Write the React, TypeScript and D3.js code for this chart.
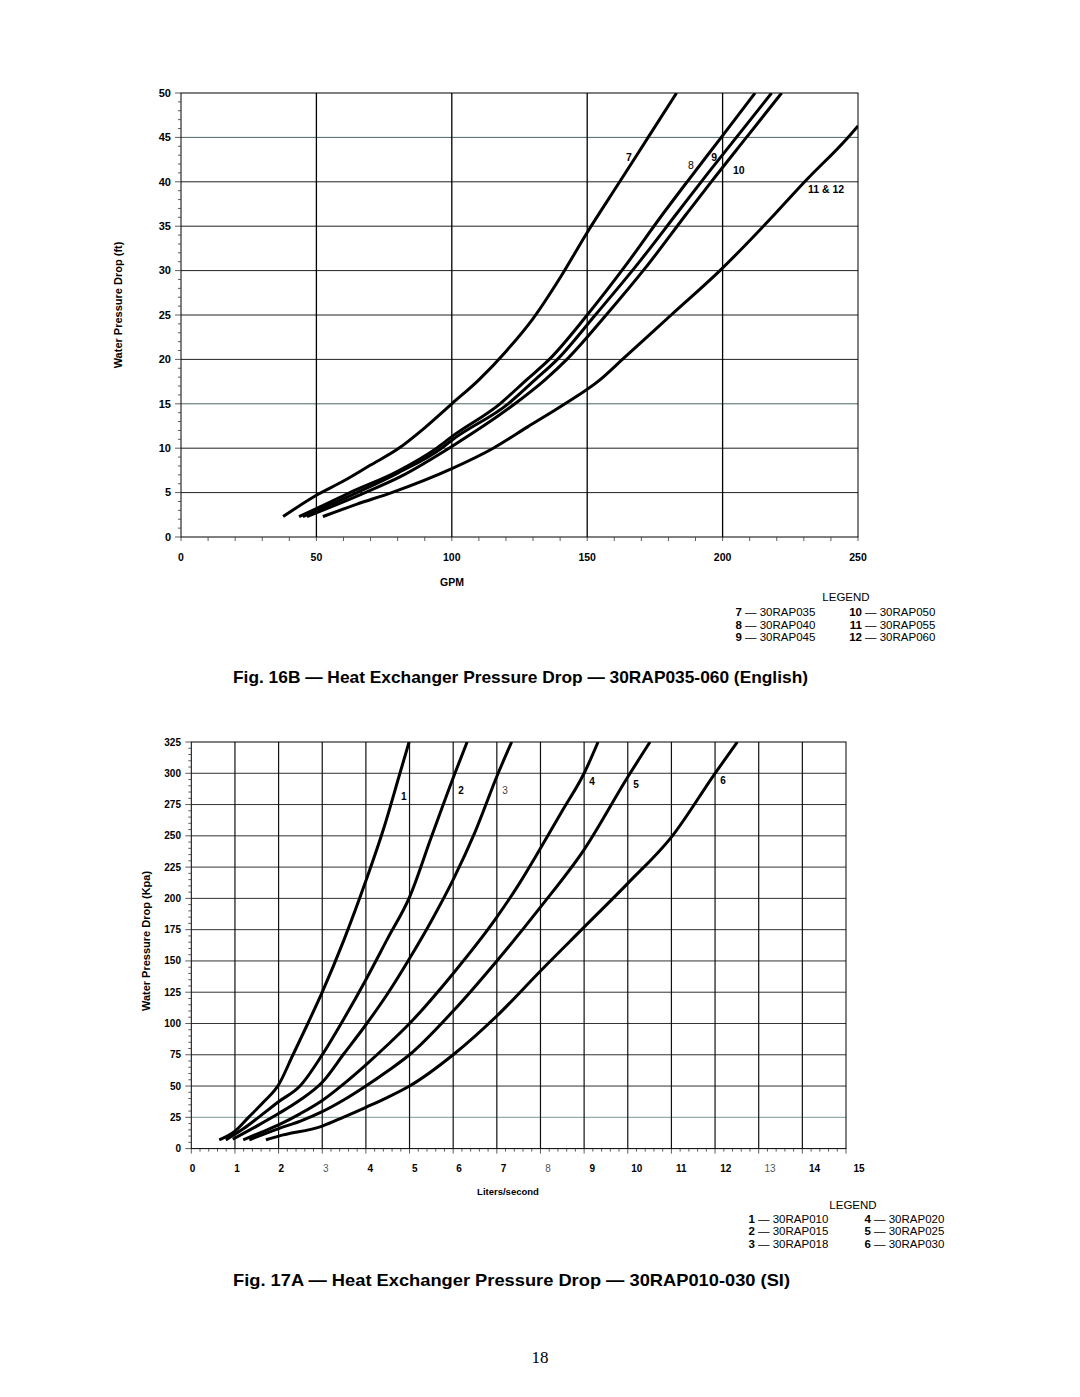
import React from "react";
import * as d3 from "d3";

type P = [number, number];

// ---------- Fig. 16B (English) ----------
const GPM_TICKS = [0, 50, 100, 150, 200, 250];
const FT_TICKS = [0, 5, 10, 15, 20, 25, 30, 35, 40, 45, 50];

const CURVE_7: P[] = [[37.7, 2.3], [50, 4.7], [60, 6.3], [70, 8.1], [80, 9.9], [90, 12.3], [100, 15], [110, 17.7], [120, 20.9], [130, 24.6], [140, 29.2], [150, 34.3], [162, 40], [172.5, 45], [183, 50]];
const CURVE_8: P[] = [[43.6, 2.3], [50, 3.2], [62.4, 5], [80, 7.4], [94.4, 10], [100, 11.3], [117.8, 15], [127.6, 17.7], [136, 20], [150, 25], [164, 30.5], [178, 36.4], [186.9, 40], [199.5, 45], [212, 50]];
const CURVE_9: P[] = [[45, 2.3], [65, 5], [80, 7.2], [96.2, 10], [100, 10.9], [120.8, 15], [130.7, 17.7], [139, 20], [153, 25], [168, 30.5], [183, 36.4], [192.1, 40], [205.1, 45], [218.1, 50]];
const CURVE_10: P[] = [[46.5, 2.3], [68, 5], [81, 6.8], [100, 10.2], [123.3, 15], [134.4, 17.7], [142.5, 20], [157, 25], [172, 30.5], [186.7, 36.4], [195.8, 40], [208.8, 45], [221.8, 50]];
const CURVE_11_12: P[] = [[52.4, 2.3], [65, 3.7], [77.8, 5], [100, 7.7], [115.3, 10], [128, 12.4], [141.8, 15], [154.7, 17.7], [163, 20], [181, 25], [199, 30], [219.4, 36.4], [230.3, 40], [246.3, 45], [250, 46.3]];

const TOP_SERIES: P[][] = [CURVE_7, CURVE_8, CURVE_9, CURVE_10, CURVE_11_12];
const TOP_CURVE_LABELS: { t: string; x: number; y: number; bold: boolean }[] = [
  { t: "7", x: 165.4, y: 42.8, bold: true },
  { t: "8", x: 188.3, y: 41.8, bold: false },
  { t: "9", x: 196.9, y: 42.8, bold: true },
  { t: "10", x: 206, y: 41.3, bold: true },
  { t: "11 & 12", x: 238.2, y: 39.1, bold: true },
];
const TOP_LEGEND_LEFT: [string, string][] = [["7", "30RAP035"], ["8", "30RAP040"], ["9", "30RAP045"]];
const TOP_LEGEND_RIGHT: [string, string][] = [["10", "30RAP050"], ["11", "30RAP055"], ["12", "30RAP060"]];

// ---------- Fig. 17A (SI) ----------
const LS_TICKS = [0, 1, 2, 3, 4, 5, 6, 7, 8, 9, 10, 11, 12, 13, 14, 15];
const LS_LIGHT_LABELS = [3, 8, 13];
const KPA_TICKS = [0, 25, 50, 75, 100, 125, 150, 175, 200, 225, 250, 275, 300, 325];

const CURVE_1: P[] = [[0.64, 7], [1.0, 14], [1.31, 25], [1.65, 37], [2.0, 51], [2.33, 75], [2.67, 100], [3.0, 125], [3.5, 167], [4.0, 214], [4.4, 255], [4.78, 300], [4.99, 325]];
const CURVE_2: P[] = [[0.79, 7], [1.2, 16], [1.54, 25], [2.0, 37.5], [2.49, 50], [3.0, 75], [3.5, 104], [4.0, 135], [4.5, 168], [5.0, 201], [5.5, 249], [6.04, 300], [6.32, 325]];
const CURVE_3: P[] = [[0.95, 7.5], [1.5, 18], [2.0, 28], [2.5, 39], [3.0, 53], [3.5, 76], [4.0, 99], [4.5, 124], [5.0, 152], [5.5, 182], [6.0, 215], [6.5, 253], [7.03, 300], [7.34, 325]];
const CURVE_4: P[] = [[1.19, 7], [1.6, 13], [2.0, 19], [2.5, 28], [3.0, 38.5], [3.5, 52], [4.0, 67], [4.5, 83], [5.0, 100], [6.0, 140], [7.0, 185], [7.5, 211], [8.0, 240], [8.5, 270], [9.0, 300], [9.32, 325]];
const CURVE_5: P[] = [[1.33, 7], [2.0, 16], [2.5, 22], [3.0, 29.5], [3.5, 39], [4.0, 50], [4.5, 62], [5.0, 75], [6.0, 110], [7.0, 150], [8.0, 193], [9.0, 239], [10.0, 297], [10.51, 325]];
const CURVE_6: P[] = [[1.71, 7], [2.0, 10], [3.0, 18], [3.48, 25], [4.0, 33], [4.5, 41], [5.0, 50], [6.0, 75], [7.0, 106], [8.0, 142], [9.0, 177], [10.0, 212], [11.0, 249], [12.0, 300], [12.51, 325]];

const BOT_SERIES: P[][] = [CURVE_1, CURVE_2, CURVE_3, CURVE_4, CURVE_5, CURVE_6];
const BOT_CURVE_LABELS: { t: string; x: number; y: number; light?: boolean }[] = [
  { t: "1", x: 4.87, y: 281.8 },
  { t: "2", x: 6.18, y: 286.6 },
  { t: "3", x: 7.19, y: 286.6, light: true },
  { t: "4", x: 9.18, y: 293.8 },
  { t: "5", x: 10.19, y: 291.4 },
  { t: "6", x: 12.18, y: 294.6 },
];
const BOT_LEGEND_LEFT: [string, string][] = [["1", "30RAP010"], ["2", "30RAP015"], ["3", "30RAP018"]];
const BOT_LEGEND_RIGHT: [string, string][] = [["4", "30RAP020"], ["5", "30RAP025"], ["6", "30RAP030"]];

const SANS = "'Liberation Sans', Arial, Helvetica, sans-serif";

function LegendCol({ rows, x, y0, dy }: { rows: [string, string][]; x: number; y0: number; dy: number }) {
  return (
    <g>
      {rows.map(([n, name], i) => (
        <g key={n}>
          <text x={x} y={y0 + i * dy} textAnchor="end" fontWeight="bold" fontSize={11.5} fontFamily={SANS}>{n}</text>
          <text x={x + 3} y={y0 + i * dy} fontSize={11.5} fontFamily={SANS}>{"— " + name}</text>
        </g>
      ))}
    </g>
  );
}

export default function App() {
  // top chart scales
  const tx = d3.scaleLinear().domain([0, 250]).range([181, 858]);
  const ty = d3.scaleLinear().domain([0, 50]).range([537, 93]);
  // bottom chart scales
  const bx = d3.scaleLinear().domain([0, 15]).range([191.3, 846]);
  const bxLabel = d3.scaleLinear().domain([0, 15]).range([192.5, 859]);
  const by = d3.scaleLinear().domain([0, 325]).range([1148.6, 742]);

  const topLine = d3.line<P>().x((d) => tx(d[0])).y((d) => ty(d[1])).curve(d3.curveMonotoneX);
  const botLine = d3.line<P>().x((d) => bx(d[0])).y((d) => by(d[1])).curve(d3.curveMonotoneX);

  const topMinorY = d3.range(0, 51, 1);
  const topMinorX = d3.range(0, 251, 10);
  const botMinorY = d3.range(0, 326, 5);
  const botMinorX = d3.range(0, 75.5, 1).map((i) => i / 5);

  return (
    <svg width={1080} height={1397} style={{ position: "absolute", left: 0, top: 0, background: "#fff" }}>
      <rect x={0} y={0} width={1080} height={1397} fill="#fff" />
      <defs>
        <clipPath id="clipTop"><rect x={tx(0)} y={ty(50)} width={tx(250) - tx(0)} height={ty(0) - ty(50)} /></clipPath>
        <clipPath id="clipBot"><rect x={bx(0)} y={by(325)} width={bx(15) - bx(0)} height={by(0) - by(325)} /></clipPath>
      </defs>

      {/* ===== TOP CHART ===== */}
      <g>
        {FT_TICKS.filter((v) => v > 0 && v < 50).map((v) => (
          <line key={"thg" + v} x1={tx(0)} x2={tx(250)} y1={ty(v)} y2={ty(v)} stroke={v === 15 || v === 45 ? "#4a6464" : "#222"} strokeWidth={1} />
        ))}
        {GPM_TICKS.filter((v) => v > 0 && v < 250).map((v) => (
          <line key={"tvg" + v} x1={tx(v)} x2={tx(v)} y1={ty(0)} y2={ty(50)} stroke="#000" strokeWidth={1.3} />
        ))}
        <rect x={tx(0)} y={ty(50)} width={tx(250) - tx(0)} height={ty(0) - ty(50)} fill="none" stroke="#000" strokeWidth={1} />
        {topMinorY.map((v) => (
          <line key={"tyt" + v} x1={tx(0) - (v % 5 === 0 ? 6 : 3)} x2={tx(0)} y1={ty(v)} y2={ty(v)} stroke="#333" strokeWidth={0.8} />
        ))}
        {topMinorX.map((v) => (
          <line key={"txt" + v} x1={tx(v)} x2={tx(v)} y1={ty(0)} y2={ty(0) + 4} stroke="#333" strokeWidth={0.8} />
        ))}
        {FT_TICKS.map((v) => (
          <text key={"tyl" + v} x={171} y={ty(v)} dy="0.35em" textAnchor="end" fontSize={11} fontWeight="bold" fontFamily={SANS}>{v}</text>
        ))}
        {GPM_TICKS.map((v) => (
          <text key={"txl" + v} x={tx(v)} y={561} textAnchor="middle" fontSize={10.5} fontWeight="bold" fontFamily={SANS}>{v}</text>
        ))}
        <text x={452} y={586} textAnchor="middle" fontSize={10.5} fontWeight="bold" fontFamily={SANS}>GPM</text>
        <text transform="translate(122,305) rotate(-90)" textAnchor="middle" fontSize={11} fontWeight="bold" fontFamily={SANS}>Water Pressure Drop (ft)</text>

        <g clipPath="url(#clipTop)">
          {TOP_SERIES.map((s, i) => (
            <path key={"tc" + i} d={topLine(s) || ""} fill="none" stroke="#000" strokeWidth={3} />
          ))}
        </g>
        {TOP_CURVE_LABELS.map((l) => (
          <text key={"tcl" + l.t} x={tx(l.x)} y={ty(l.y)} dy="0.35em" textAnchor="middle" fontSize={10.5} fontFamily={SANS} fontWeight={l.bold ? "bold" : "normal"}>{l.t}</text>
        ))}

        <text x={846} y={601} textAnchor="middle" fontSize={11.5} fontFamily={SANS}>LEGEND</text>
        <LegendCol rows={TOP_LEGEND_LEFT} x={742} y0={616} dy={12.5} />
        <LegendCol rows={TOP_LEGEND_RIGHT} x={862} y0={616} dy={12.5} />

        <text x={233} y={683} fontSize={17} fontWeight="bold" fontFamily={SANS} textLength={575} lengthAdjust="spacingAndGlyphs">Fig. 16B — Heat Exchanger Pressure Drop — 30RAP035-060 (English)</text>
      </g>

      {/* ===== BOTTOM CHART ===== */}
      <g>
        {KPA_TICKS.filter((v) => v > 0 && v < 325).map((v) => (
          <line key={"bhg" + v} x1={bx(0)} x2={bx(15)} y1={by(v)} y2={by(v)} stroke={v === 25 ? "#7a9a9a" : "#333"} strokeWidth={1} />
        ))}
        {LS_TICKS.filter((v) => v > 0 && v < 15).map((v) => (
          <line key={"bvg" + v} x1={bx(v)} x2={bx(v)} y1={by(0)} y2={by(325)} stroke="#111" strokeWidth={1.2} />
        ))}
        <rect x={bx(0)} y={by(325)} width={bx(15) - bx(0)} height={by(0) - by(325)} fill="none" stroke="#000" strokeWidth={1} />
        {botMinorY.map((v) => (
          <line key={"byt" + v} x1={bx(0) - (v % 25 === 0 ? 6 : 3)} x2={bx(0)} y1={by(v)} y2={by(v)} stroke="#333" strokeWidth={0.8} />
        ))}
        {botMinorX.map((v, i) => (
          <line key={"bxt" + i} x1={bx(v)} x2={bx(v)} y1={by(0)} y2={by(0) + (i % 5 === 0 ? 5 : 3)} stroke="#333" strokeWidth={0.8} />
        ))}
        {KPA_TICKS.map((v) => (
          <text key={"byl" + v} x={181} y={by(v)} dy="0.35em" textAnchor="end" fontSize={10} fontWeight={600} fontFamily={SANS}>{v}</text>
        ))}
        {LS_TICKS.map((v) => {
          const light = LS_LIGHT_LABELS.includes(v);
          return (
            <text key={"bxl" + v} x={bxLabel(v)} y={1172} textAnchor="middle" fontSize={10} fontWeight={light ? "normal" : "bold"} fill={light ? "#555" : "#000"} fontFamily={SANS}>{v}</text>
          );
        })}
        <text x={508} y={1195} textAnchor="middle" fontSize={9.5} fontWeight="bold" fontFamily={SANS}>Liters/second</text>
        <text transform="translate(150,941) rotate(-90)" textAnchor="middle" fontSize={11} fontWeight="bold" fontFamily={SANS}>Water Pressure Drop (Kpa)</text>

        <g clipPath="url(#clipBot)">
          {BOT_SERIES.map((s, i) => (
            <path key={"bc" + i} d={botLine(s) || ""} fill="none" stroke="#000" strokeWidth={3} />
          ))}
        </g>
        {BOT_CURVE_LABELS.map((l) => (
          <text key={"bcl" + l.t} x={bx(l.x)} y={by(l.y)} dy="0.35em" textAnchor="middle" fontSize={10} fontFamily={SANS} fontWeight={l.light ? "normal" : "bold"} fill={l.light ? "#444" : "#000"}>{l.t}</text>
        ))}

        <text x={853} y={1209} textAnchor="middle" fontSize={11.5} fontFamily={SANS}>LEGEND</text>
        <LegendCol rows={BOT_LEGEND_LEFT} x={755} y0={1223} dy={12.3} />
        <LegendCol rows={BOT_LEGEND_RIGHT} x={871} y0={1223} dy={12.3} />

        <text x={233} y={1286} fontSize={17} fontWeight="bold" fontFamily={SANS} textLength={557} lengthAdjust="spacingAndGlyphs">Fig. 17A — Heat Exchanger Pressure Drop — 30RAP010-030 (SI)</text>
      </g>

      <text x={540} y={1363} textAnchor="middle" fontSize={17} fontFamily="'Liberation Serif', 'Times New Roman', serif">18</text>
    </svg>
  );
}
